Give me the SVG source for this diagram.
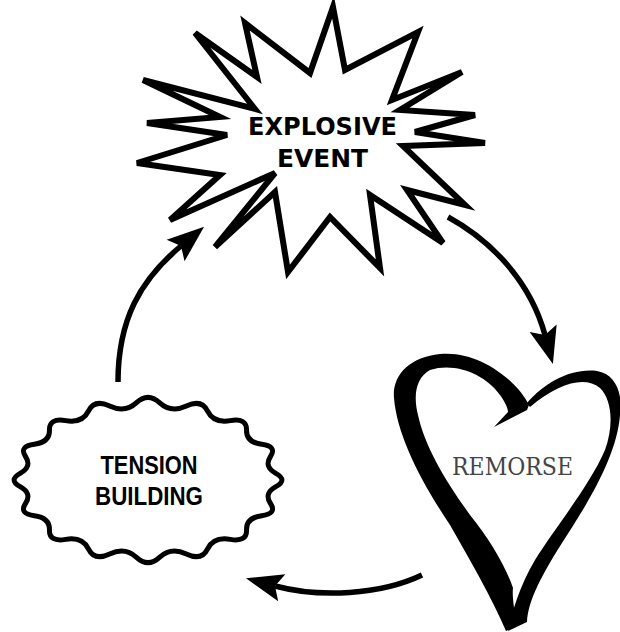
<svg xmlns="http://www.w3.org/2000/svg" width="620" height="632" viewBox="0 0 620 632">
<style>
.shape{fill:#fff;stroke:#000;stroke-width:6}
.cloud{fill:#fff;stroke:#000;stroke-width:5;stroke-linejoin:round}
.conn{fill:none;stroke:#000;stroke-width:5.5}
.bold{font-family:"DejaVu Sans","Open Sans",sans-serif;font-weight:bold;fill:#000;text-anchor:middle}
.narrow{font-family:"Liberation Sans",Arial,sans-serif;font-weight:bold;fill:#000;text-anchor:middle}
.fancy{font-family:"DejaVu Serif","Liberation Serif",serif;fill:#444;text-anchor:middle}
</style>
<defs>
<marker id="ah" viewBox="-40 -16 42 32" refX="-30" refY="0" markerWidth="42" markerHeight="32" orient="auto" markerUnits="userSpaceOnUse">
<path d="M0,0 L-37,-14 L-30,0 L-37,14 Z" fill="#000"/>
</marker>
</defs>
<rect width="620" height="632" fill="#fff"/>
<g id="connectors">
<path class="conn" d="M 118 382 C 118 320, 140 280, 181 246" marker-end="url(#ah)"/>
<path class="conn" d="M 448 217 C 490 240, 530 280, 545 335" marker-end="url(#ah)"/>
<path class="conn" d="M 422 575 C 380 595, 320 598, 275 586" marker-end="url(#ah)"/>
</g>
<g id="explosive-event">
<polygon class="shape" points="333,7 345,70 418,32 392,100 462,72 400,110 475,115 415,132 485,143 403,146 465,205 407,190 443,243 370,195 380,268 330,217 288,272 275,192 215,247 275,173 170,220 220,175 137,163 227,135 147,123 220,117 143,80 255,109 195,33 257,77 245,23 310,73"/>
<text class="bold" x="322.5" y="135" font-size="25" textLength="149" lengthAdjust="spacingAndGlyphs">EXPLOSIVE</text>
<text class="bold" x="322.5" y="167" font-size="25" textLength="91" lengthAdjust="spacingAndGlyphs">EVENT</text>
</g>
<g id="tension-building">
<path class="cloud" d="M 275.85 473.35 Q 288 480 275.85 486.65 Q 263.7 493.3 270.5 503.5 Q 277.3 513.7 261.7 515.75 Q 246.1 517.8 246.55 530 Q 247 542.2 230.3 539.35 Q 213.6 536.5 207.6 548.9 Q 201.6 561.3 186.3 554 Q 171 546.7 159.5 557.35 Q 148 568 136.5 557.35 Q 125 546.7 109.7 554 Q 94.4 561.3 88.4 548.9 Q 82.4 536.5 65.7 539.35 Q 49 542.2 49.45 530 Q 49.9 517.8 34.3 515.75 Q 18.7 513.7 25.5 503.5 Q 32.3 493.3 20.15 486.65 Q 8 480 20.15 473.35 Q 32.3 466.7 25.5 456.5 Q 18.7 446.3 34.3 444.25 Q 49.9 442.2 49.45 430 Q 49 417.8 65.7 420.65 Q 82.4 423.5 88.4 411.1 Q 94.4 398.7 109.7 406 Q 125 413.3 136.5 402.65 Q 148 392 159.5 402.65 Q 171 413.3 186.3 406 Q 201.6 398.7 207.6 411.1 Q 213.6 423.5 230.3 420.65 Q 247 417.8 246.55 430 Q 246.1 442.2 261.7 444.25 Q 277.3 446.3 270.5 456.5 Q 263.7 466.7 275.85 473.35 Z"/>
<text class="narrow" x="149" y="474" font-size="25" textLength="97" lengthAdjust="spacingAndGlyphs">TENSION</text>
<text class="narrow" x="149" y="505" font-size="25" textLength="108" lengthAdjust="spacingAndGlyphs">BUILDING</text>
</g>
<g id="remorse">
<path fill="#000" d="M 527 403 C 545 383, 570 368, 597 371 C 615 374, 623 392, 620 415 C 617 455, 590 500, 562 543 C 543 573, 528 600, 527 622 L 508 631 C 512 612, 520 585, 535 560 C 555 528, 590 485, 605 450 C 614 425, 612 400, 600 388 C 585 376, 560 382, 530 407 Z"/>
<path fill="#000" d="M 529 405 C 518 382, 480 350, 440 354 C 410 357, 392 375, 394 398 C 397 435, 420 480, 450 525 C 470 560, 492 598, 506 631 L 517 626 C 514 610, 512 595, 513 588 C 505 565, 490 540, 470 515 C 445 480, 425 447, 418 415 C 413 395, 416 378, 430 370 C 455 362, 485 374, 500 395 C 505 402, 508 408, 508 412 L 494 427 L 527 410 Z"/>
<text class="fancy" x="512.5" y="475" font-size="24" textLength="121" lengthAdjust="spacingAndGlyphs">REMORSE</text>
</g>
</svg>
